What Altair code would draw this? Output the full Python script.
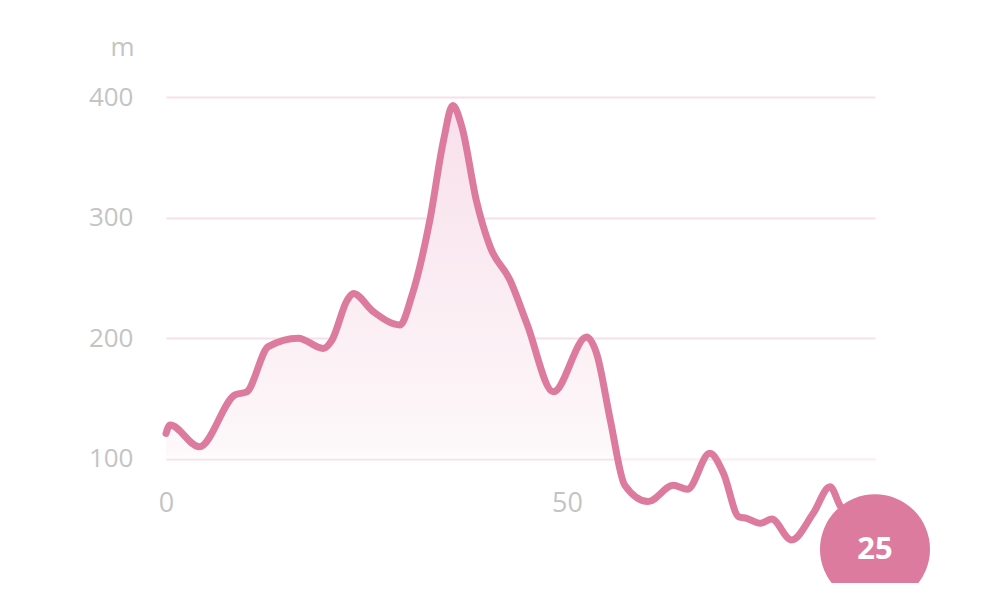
import altair as alt
import pandas as pd

km = [0, 0.5, 4.15, 8.6, 10.06, 12.75, 16.5, 19.6, 20.66, 22.6, 23.35, 25.85,
      29.18, 30.6, 32.9, 34.6, 35.75, 36.9, 38.7, 40.4, 42.9, 45, 48.3, 52.45,
      53.7, 55.4, 57.2, 60.1, 63.25, 65, 67.8, 69.5, 71.4, 72.4, 74.1, 75.5,
      78, 80.7, 82.8, 84, 88.4]
elev = [121, 128, 110, 153, 155.5, 193, 200, 191.5, 198, 231.6, 237, 222,
        211, 234, 298, 364, 393, 375, 314, 276, 248, 212, 155.5, 201,
        187, 132, 78, 64.5, 78, 74.7, 104.5, 88, 52, 50.6, 46.5, 50,
        32.7, 54.8, 76.8, 61.7, 25]
y_ticks = [100, 200, 300, 400]
x_ticks = [0, 50]
area_base = 100

df = pd.DataFrame({"km": km, "elev": elev})
last = df.tail(1)

PINK = "#dc7b9d"
LABEL = "#c4c4c4"
FONT = "Open Sans"

x_enc = alt.X("km:Q", scale=alt.Scale(domain=[0, 88.4], nice=False, zero=False),
              axis=alt.Axis(values=x_ticks, grid=False, domain=False, ticks=False,
                            labelFlush=False, labelFontSize=27, labelColor=LABEL,
                            labelFont=FONT, labelBaseline="alphabetic",
                            labelPadding=0, offset=-71.5, title=None, zindex=1))
y_enc = alt.Y("elev:Q", scale=alt.Scale(domain=[-3, 400], nice=False, zero=False),
              axis=alt.Axis(values=y_ticks, grid=True, gridColor="#f5e1e9",
                            gridWidth=2, domain=False, ticks=False,
                            labelFontSize=26, labelColor=LABEL, labelFont=FONT,
                            labelPadding=33, title="m", titleAngle=0,
                            titleFont=FONT, titleFontSize=26, titleFontWeight="normal",
                            titleColor=LABEL, titleX=-44, titleY=-42,
                            titleAlign="center", titleBaseline="alphabetic"))

area = alt.Chart(df).mark_area(
    interpolate="monotone",
    color=alt.Gradient(gradient="linear",
                       stops=[alt.GradientStop(color="#f8e0ea", offset=0),
                              alt.GradientStop(color="#fdf8fa", offset=0.78),
                              alt.GradientStop(color="rgba(255,255,255,0)", offset=0.82),
                              alt.GradientStop(color="rgba(255,255,255,0)", offset=1)],
                       x1=0, x2=0, y1=0, y2=1),
).encode(x=x_enc, y=y_enc, y2=alt.datum(area_base))

line = alt.Chart(df).mark_line(
    interpolate="monotone", color=PINK, strokeWidth=7, strokeCap="round",
    strokeJoin="round"
).encode(x=x_enc, y=y_enc)

dot = alt.Chart(last).mark_circle(size=12100, color=PINK, opacity=1).encode(
    x=x_enc, y=y_enc)

label = alt.Chart(last).mark_text(
    color="white", font=FONT, fontSize=31, fontWeight="bold", baseline="middle",
    align="center", dy=1
).encode(x=x_enc, y=y_enc, text=alt.Text("elev:Q", format="d"))

chart = alt.layer(area, line, dot, label).properties(
    width=709, height=486,
    autosize=alt.AutoSizeParams(type="none"),
    padding={"left": 158, "top": 89, "right": 120, "bottom": 0},
    background="white",
).configure_view(stroke=None)

chart.save("out.html", embed_options={"renderer": "svg", "actions": False})
